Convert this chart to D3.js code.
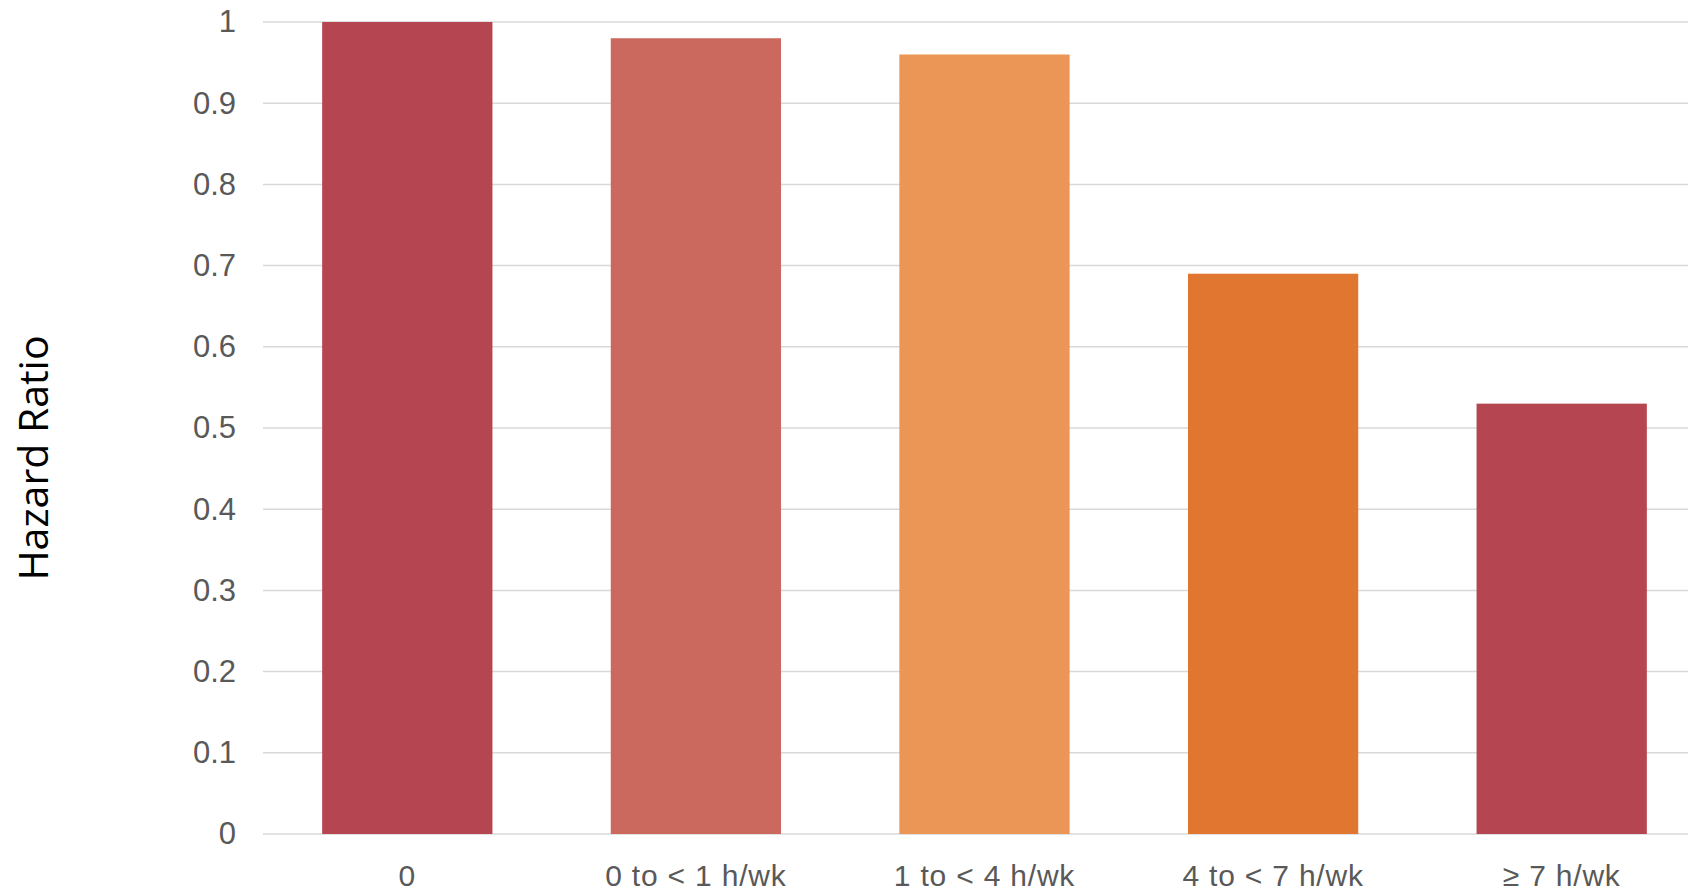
<!DOCTYPE html>
<html>
<head>
<meta charset="utf-8">
<script src="https://cdn.jsdelivr.net/npm/d3@7"></script>
<style>
  html, body { margin: 0; padding: 0; background: #fff; }
  svg { display: block; }
</style>
</head>
<body>
<svg id="chart" width="1688" height="892"></svg>
<script>
// Hazard ratio by weekly activity category
const categories = ["0", "0 to < 1 h/wk", "1 to < 4 h/wk", "4 to < 7 h/wk", "\u2265 7 h/wk"];
const hazardRatio = [1.0, 0.98, 0.96, 0.69, 0.53];
const barColors = ["#B54551", "#CB695E", "#EB9657", "#E0762F", "#B54551"];
const yTicks = [0, 0.1, 0.2, 0.3, 0.4, 0.5, 0.6, 0.7, 0.8, 0.9, 1];
const yTitle = "Hazard Ratio";

const svg = d3.select("#chart");
const plot = { left: 263, right: 1706, top: 22, bottom: 834 };

const x = d3.scaleBand()
  .domain(categories)
  .range([plot.left, plot.right])
  .paddingInner(0.41)
  .paddingOuter(0.205);

const y = d3.scaleLinear()
  .domain([0, 1])
  .range([plot.bottom, plot.top]);

// horizontal gridlines
svg.append("g")
  .selectAll("line")
  .data(yTicks)
  .join("line")
  .attr("x1", plot.left)
  .attr("x2", plot.right)
  .attr("y1", d => y(d))
  .attr("y2", d => y(d))
  .attr("stroke", "#D9D9D9")
  .attr("stroke-width", 1.5);

// bars
svg.append("g")
  .selectAll("rect")
  .data(categories)
  .join("rect")
  .attr("x", d => x(d))
  .attr("width", x.bandwidth())
  .attr("y", (d, i) => y(hazardRatio[i]))
  .attr("height", (d, i) => y(0) - y(hazardRatio[i]))
  .attr("fill", (d, i) => barColors[i]);

// y axis labels
const yAxis = d3.axisLeft(y)
  .tickValues(yTicks)
  .tickFormat(d3.format("~g"))
  .tickSize(0)
  .tickPadding(27);
const gy = svg.append("g")
  .attr("transform", `translate(${plot.left},0)`)
  .call(yAxis);
gy.select(".domain").remove();
gy.selectAll("text")
  .attr("font-family", "'Liberation Sans', Arial, sans-serif")
  .attr("font-size", 31)
  .attr("fill", "#595959");

// x axis labels
const xAxis = d3.axisBottom(x).tickSize(0).tickPadding(31);
const gx = svg.append("g")
  .attr("transform", `translate(0,${plot.bottom})`)
  .call(xAxis);
gx.select(".domain").remove();
gx.selectAll("text")
  .attr("font-family", "'Liberation Sans', Arial, sans-serif")
  .attr("font-size", 30)
  .attr("letter-spacing", 0.8)
  .attr("fill", "#595959");

// y axis title
svg.append("text")
  .attr("transform", "translate(48,458) rotate(-90)")
  .attr("text-anchor", "middle")
  .attr("font-family", "'Open Sans', 'Noto Sans', sans-serif")
  .attr("font-size", 41)
  .attr("fill", "#000")
  .text(yTitle);
</script>
</body>
</html>
